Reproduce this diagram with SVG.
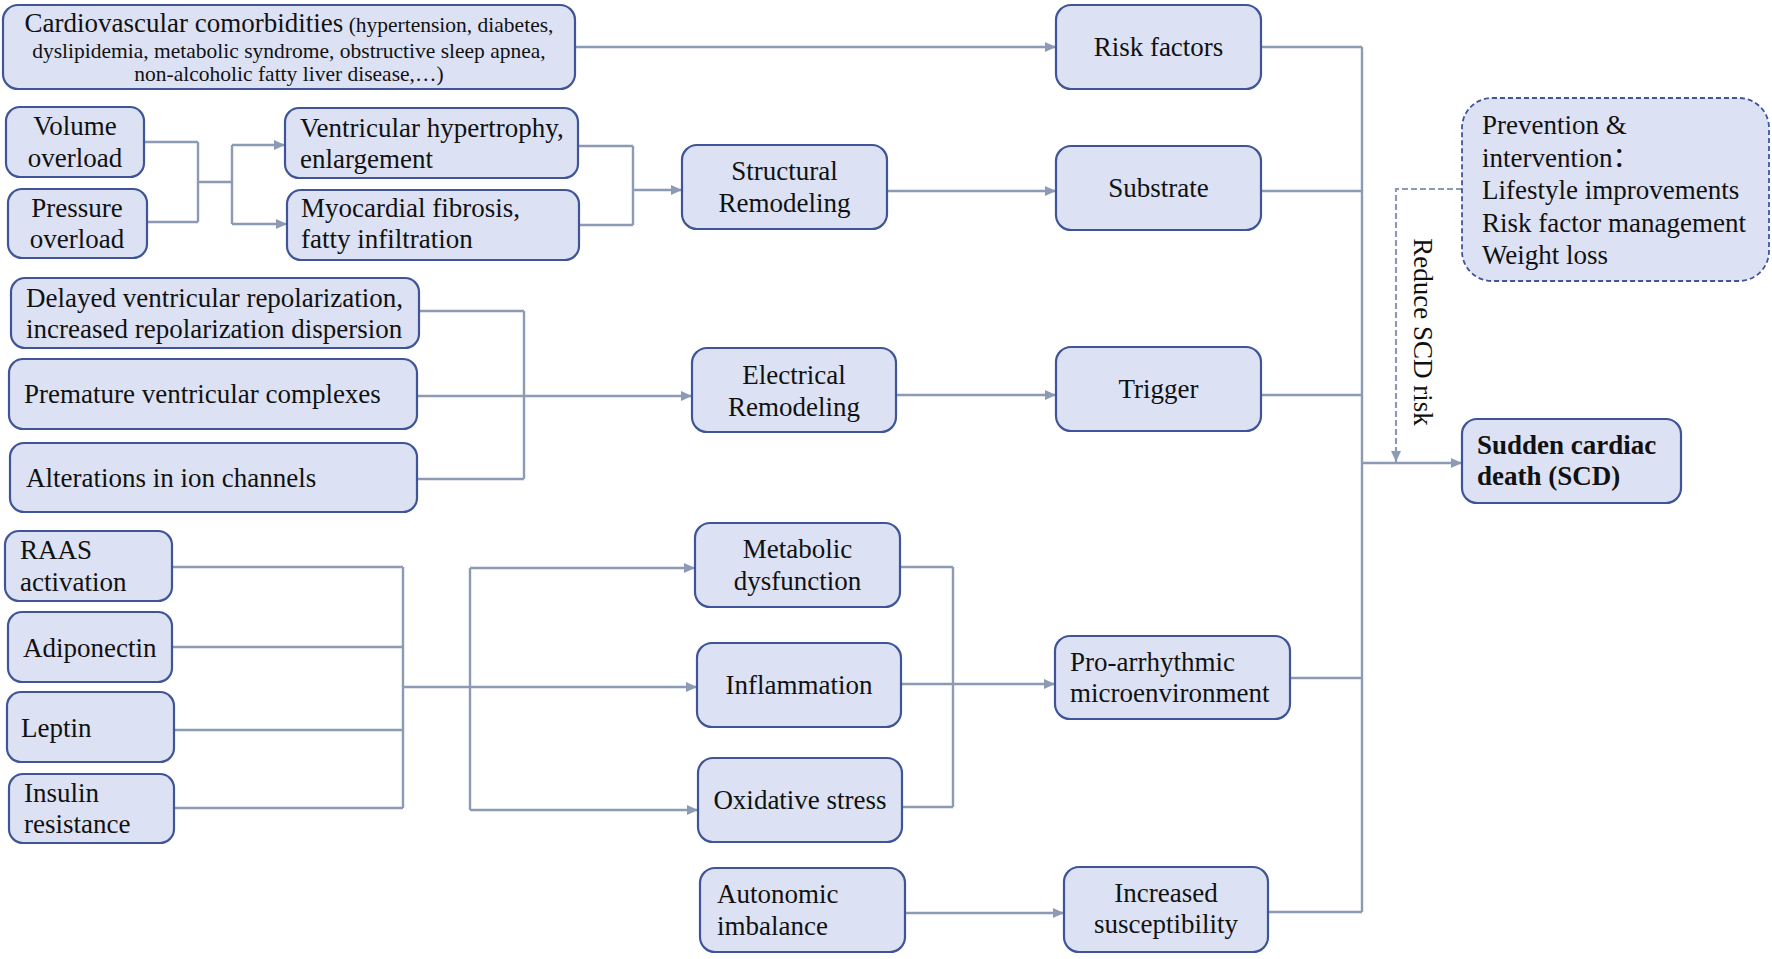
<svg xmlns="http://www.w3.org/2000/svg" width="1772" height="959" viewBox="0 0 1772 959">
<style>
.box{fill:#dce2f4;stroke:#3f5597;stroke-width:2.2}
.dbox{fill:#dce2f4;stroke:#3f5597;stroke-width:1.8;stroke-dasharray:5 3}
.t{font-family:"Liberation Serif","Times New Roman","Noto Sans CJK SC",serif;font-size:27px;fill:#111}
.s{font-size:21.5px}
.c{text-anchor:middle}
.b{font-weight:bold}
.ln{fill:none;stroke:#8c9ab5;stroke-width:2.4}
.dl{fill:none;stroke:#8c9ab5;stroke-width:2.2;stroke-dasharray:6 3}
</style>
<defs>
<marker id="ah" markerUnits="userSpaceOnUse" markerWidth="11" markerHeight="10" refX="11" refY="5" orient="auto">
<path d="M0,0 L11,5 L0,10 z" fill="#8c9ab5"/>
</marker>
</defs>
<rect width="1772" height="959" fill="#fff"/>
<g id="connectors">
<path class="ln" d="M575,47 H1056" marker-end="url(#ah)"/>
<path class="ln" d="M144,142 H198 M147,222 H198 M198,142 V222 M198,182 H232 M232,145 V224"/>
<path class="ln" d="M232,145 H285" marker-end="url(#ah)"/>
<path class="ln" d="M232,224 H287" marker-end="url(#ah)"/>
<path class="ln" d="M578,146 H633 M579,225 H633 M633,146 V225"/>
<path class="ln" d="M633,190 H682" marker-end="url(#ah)"/>
<path class="ln" d="M887,191 H1056" marker-end="url(#ah)"/>
<path class="ln" d="M419,311 H524 M417,479 H524 M524,311 V479"/>
<path class="ln" d="M417,396 H692" marker-end="url(#ah)"/>
<path class="ln" d="M896,395 H1056" marker-end="url(#ah)"/>
<path class="ln" d="M172,567 H403 M172,647 H403 M174,730 H403 M174,808 H403 M403,567 V808 M403,687 H470 M470,568 V810"/>
<path class="ln" d="M470,568 H695" marker-end="url(#ah)"/>
<path class="ln" d="M470,687 H697" marker-end="url(#ah)"/>
<path class="ln" d="M470,810 H698" marker-end="url(#ah)"/>
<path class="ln" d="M900,567 H953 M902,807 H953 M953,567 V807"/>
<path class="ln" d="M901,684 H1055" marker-end="url(#ah)"/>
<path class="ln" d="M905,913 H1064" marker-end="url(#ah)"/>
<path class="ln" d="M1261,47 H1362 M1261,191 H1362 M1261,395 H1362 M1290,678 H1362 M1268,912 H1362 M1362,47 V912"/>
<path class="ln" d="M1362,463 H1462" marker-end="url(#ah)"/>
<path class="dl" d="M1462,189 H1396 V462" marker-end="url(#ah)"/>
<text class="t c" transform="translate(1414,332) rotate(90)">Reduce SCD risk</text>
</g>
<g id="cardio"><rect class="box" x="3" y="5" width="572" height="84" rx="15"/>
<text class="t c" x="289" y="32">Cardiovascular comorbidities<tspan class="s"> (hypertension, diabetes,</tspan></text>
<text class="t s c" x="289" y="58">dyslipidemia, metabolic syndrome, obstructive sleep apnea,</text>
<text class="t s c" x="289" y="81">non-alcoholic fatty liver disease,…)</text></g>
<g id="risk"><rect class="box" x="1056" y="5" width="205" height="84" rx="15"/><text class="t c" x="1158.5" y="56">Risk factors</text></g>
<g id="volume"><rect class="box" x="6" y="107" width="138" height="70" rx="14"/><text class="t c" x="75" y="135">Volume</text><text class="t c" x="75" y="167">overload</text></g>
<g id="pressure"><rect class="box" x="8" y="189" width="139" height="69" rx="14"/><text class="t c" x="77" y="217">Pressure</text><text class="t c" x="77" y="248">overload</text></g>
<g id="vent"><rect class="box" x="285" y="108" width="293" height="70" rx="14"/><text class="t" x="300" y="137">Ventricular hypertrophy,</text><text class="t" x="300" y="168">enlargement</text></g>
<g id="myo"><rect class="box" x="287" y="190" width="292" height="70" rx="14"/><text class="t" x="301" y="217">Myocardial fibrosis,</text><text class="t" x="301" y="248">fatty infiltration</text></g>
<g id="structural"><rect class="box" x="682" y="145" width="205" height="84" rx="15"/><text class="t c" x="784.5" y="180">Structural</text><text class="t c" x="784.5" y="212">Remodeling</text></g>
<g id="substrate"><rect class="box" x="1056" y="146" width="205" height="84" rx="15"/><text class="t c" x="1158.5" y="197">Substrate</text></g>
<g id="delayed"><rect class="box" x="11" y="278" width="408" height="70" rx="14"/><text class="t" x="26" y="307">Delayed ventricular repolarization,</text><text class="t" x="26" y="338">increased repolarization dispersion</text></g>
<g id="premature"><rect class="box" x="9" y="359" width="408" height="70" rx="14"/><text class="t" x="24" y="403">Premature ventricular complexes</text></g>
<g id="alterations"><rect class="box" x="10" y="443" width="407" height="69" rx="14"/><text class="t" x="26" y="487">Alterations in ion channels</text></g>
<g id="electrical"><rect class="box" x="692" y="348" width="204" height="84" rx="15"/><text class="t c" x="794" y="384">Electrical</text><text class="t c" x="794" y="416">Remodeling</text></g>
<g id="trigger"><rect class="box" x="1056" y="347" width="205" height="84" rx="15"/><text class="t c" x="1158.5" y="398">Trigger</text></g>
<g id="prevention"><rect class="dbox" x="1462" y="98" width="307" height="183" rx="30"/>
<text class="t" x="1482" y="134">Prevention &amp;</text>
<text class="t" x="1482" y="167">intervention：</text>
<text class="t" x="1482" y="199">Lifestyle improvements</text>
<text class="t" x="1482" y="232">Risk factor management</text>
<text class="t" x="1482" y="264">Weight loss</text></g>
<g id="scd"><rect class="box" x="1462" y="419" width="219" height="84" rx="15"/><text class="t b" x="1477" y="454">Sudden cardiac</text><text class="t b" x="1477" y="485">death (SCD)</text></g>
<g id="raas"><rect class="box" x="5" y="531" width="167" height="70" rx="14"/><text class="t" x="20" y="559">RAAS</text><text class="t" x="20" y="591">activation</text></g>
<g id="adiponectin"><rect class="box" x="8" y="612" width="164" height="70" rx="14"/><text class="t" x="23" y="657">Adiponectin</text></g>
<g id="leptin"><rect class="box" x="7" y="692" width="167" height="70" rx="14"/><text class="t" x="21" y="737">Leptin</text></g>
<g id="insulin"><rect class="box" x="9" y="774" width="165" height="69" rx="14"/><text class="t" x="24" y="802">Insulin</text><text class="t" x="24" y="833">resistance</text></g>
<g id="metabolic"><rect class="box" x="695" y="523" width="205" height="84" rx="15"/><text class="t c" x="797.5" y="558">Metabolic</text><text class="t c" x="797.5" y="590">dysfunction</text></g>
<g id="inflammation"><rect class="box" x="697" y="643" width="204" height="84" rx="15"/><text class="t c" x="799" y="694">Inflammation</text></g>
<g id="oxidative"><rect class="box" x="698" y="758" width="204" height="84" rx="15"/><text class="t c" x="800" y="809">Oxidative stress</text></g>
<g id="proarrhythmic"><rect class="box" x="1055" y="636" width="235" height="83" rx="15"/><text class="t" x="1070" y="671">Pro-arrhythmic</text><text class="t" x="1070" y="702">microenvironment</text></g>
<g id="autonomic"><rect class="box" x="700" y="868" width="205" height="84" rx="15"/><text class="t" x="717" y="903">Autonomic</text><text class="t" x="717" y="935">imbalance</text></g>
<g id="increased"><rect class="box" x="1064" y="867" width="204" height="85" rx="15"/><text class="t c" x="1166" y="902">Increased</text><text class="t c" x="1166" y="933">susceptibility</text></g>
</svg>
